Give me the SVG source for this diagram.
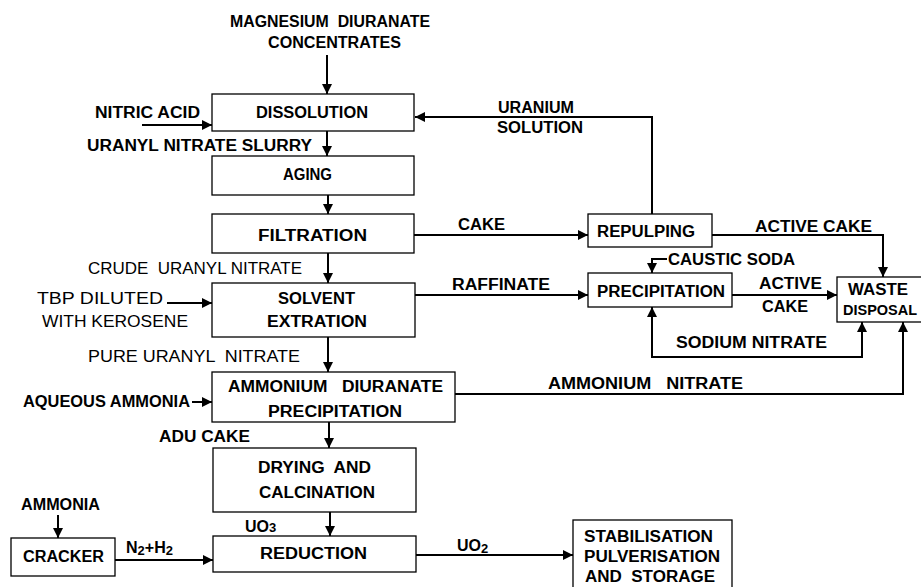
<svg xmlns="http://www.w3.org/2000/svg" width="921" height="587" viewBox="0 0 921 587">
<defs>
<marker id="ah" viewBox="0 0 10 10" refX="10" refY="5" markerWidth="11" markerHeight="10" markerUnits="userSpaceOnUse" orient="auto">
<path d="M0,0 L10,5 L0,10 z" fill="#000"/>
</marker>
</defs>
<style>
text{font-family:"Liberation Sans",Arial,sans-serif;font-weight:bold;font-size:16px;fill:#000}
.n{font-weight:normal}
.s{font-size:13px}
rect{fill:#fff;stroke:#000;stroke-width:1.3}
.ar{fill:none;stroke:#000;stroke-width:2;marker-end:url(#ah)}
</style>
<rect x="0" y="0" width="921" height="587" style="stroke:none"/>
<g id="connectors">
<path class="ar" d="M327,55 V94"/>
<path class="ar" d="M142,125 H212"/>
<path class="ar" d="M327,131 V156"/>
<path class="ar" d="M328,195 V214"/>
<path class="ar" d="M328,253 V283"/>
<path class="ar" d="M167,303 H212"/>
<path class="ar" d="M328,337 V372"/>
<path class="ar" d="M192,402 H212"/>
<path class="ar" d="M329,422 V448"/>
<path class="ar" d="M330,512 V536"/>
<path class="ar" d="M58,515 V538"/>
<path class="ar" d="M115,560 H213"/>
<path class="ar" d="M416,555 H573"/>
<path class="ar" d="M652,214 V117 H415"/>
<path class="ar" d="M414,235 H588"/>
<path class="ar" d="M712,235 H883 V277"/>
<path class="ar" d="M415,295 H588"/>
<path class="ar" d="M667,259 H652 V273"/>
<path class="ar" d="M732,295 H837"/>
<path class="ar" d="M862,357 H652 V307"/>
<path class="ar" d="M652,357 H862 V322"/>
<path class="ar" d="M455,394 H903 V322"/>
</g>
<g id="dissolution"><rect x="212" y="94" width="202" height="37"/><text x="256" y="118" textLength="112" lengthAdjust="spacingAndGlyphs">DISSOLUTION</text></g>
<g id="aging"><rect x="212" y="156" width="202" height="39"/><text x="283" y="180" textLength="49" lengthAdjust="spacingAndGlyphs">AGING</text></g>
<g id="filtration"><rect x="212" y="214" width="202" height="39"/><text x="258" y="241" textLength="109" lengthAdjust="spacingAndGlyphs">FILTRATION</text></g>
<g id="solvent"><rect x="212" y="283" width="203" height="54"/><text x="278" y="304" textLength="77" lengthAdjust="spacingAndGlyphs">SOLVENT</text><text x="267" y="327" textLength="100" lengthAdjust="spacingAndGlyphs">EXTRATION</text></g>
<g id="adu"><rect x="212" y="372" width="243" height="50"/><text x="228" y="392" textLength="215" lengthAdjust="spacingAndGlyphs" xml:space="preserve">AMMONIUM   DIURANATE</text><text x="268" y="417" textLength="134" lengthAdjust="spacingAndGlyphs">PRECIPITATION</text></g>
<g id="drying"><rect x="213" y="448" width="203" height="64"/><text x="258" y="473" textLength="113" lengthAdjust="spacingAndGlyphs" xml:space="preserve">DRYING  AND</text><text x="259" y="498" textLength="116" lengthAdjust="spacingAndGlyphs">CALCINATION</text></g>
<g id="reduction"><rect x="213" y="536" width="203" height="36"/><text x="260" y="559" textLength="107" lengthAdjust="spacingAndGlyphs">REDUCTION</text></g>
<g id="cracker"><rect x="11" y="538" width="104" height="38"/><text x="23" y="562" textLength="81" lengthAdjust="spacingAndGlyphs">CRACKER</text></g>
<g id="storage"><rect x="573" y="520" width="159" height="80"/><text x="584" y="542" textLength="129" lengthAdjust="spacingAndGlyphs">STABILISATION</text><text x="584" y="562" textLength="136" lengthAdjust="spacingAndGlyphs">PULVERISATION</text><text x="585" y="582" textLength="130" lengthAdjust="spacingAndGlyphs" xml:space="preserve">AND  STORAGE</text></g>
<g id="repulping"><rect x="588" y="214" width="124" height="33"/><text x="597" y="237" textLength="98" lengthAdjust="spacingAndGlyphs">REPULPING</text></g>
<g id="precipitation"><rect x="588" y="273" width="144" height="34"/><text x="597" y="297" textLength="128" lengthAdjust="spacingAndGlyphs">PRECIPITATION</text></g>
<g id="waste"><rect x="837" y="277" width="100" height="45"/><text x="848" y="295" textLength="60" lengthAdjust="spacingAndGlyphs">WASTE</text><text x="843" y="315" style="font-size:14.5px">DISPOSAL</text></g>
<g id="labels">
<text x="230" y="27" textLength="200" lengthAdjust="spacingAndGlyphs" xml:space="preserve">MAGNESIUM  DIURANATE</text>
<text x="268" y="48" textLength="133" lengthAdjust="spacingAndGlyphs">CONCENTRATES</text>
<text x="95" y="118" textLength="105" lengthAdjust="spacingAndGlyphs">NITRIC ACID</text>
<text x="87" y="151" textLength="225" lengthAdjust="spacingAndGlyphs">URANYL NITRATE SLURRY</text>
<text class="n" x="88" y="274" textLength="214" lengthAdjust="spacingAndGlyphs" xml:space="preserve">CRUDE  URANYL NITRATE</text>
<text class="n" x="37" y="304" textLength="126" lengthAdjust="spacingAndGlyphs">TBP DILUTED</text>
<text class="n" x="42" y="327" textLength="146" lengthAdjust="spacingAndGlyphs">WITH KEROSENE</text>
<text class="n" x="88" y="362" textLength="212" lengthAdjust="spacingAndGlyphs" xml:space="preserve">PURE URANYL  NITRATE</text>
<text x="23" y="407" textLength="167" lengthAdjust="spacingAndGlyphs">AQUEOUS AMMONIA</text>
<text x="159" y="442" textLength="91" lengthAdjust="spacingAndGlyphs">ADU CAKE</text>
<text x="21" y="510" textLength="79" lengthAdjust="spacingAndGlyphs">AMMONIA</text>
<text x="245" y="532">UO<tspan class="s">3</tspan></text>
<text x="126" y="553">N<tspan class="s" dy="2">2</tspan><tspan dy="-2">+H</tspan><tspan class="s" dy="2">2</tspan></text>
<text x="457" y="551">UO<tspan class="s" dy="2">2</tspan></text>
<text x="498" y="113" textLength="76" lengthAdjust="spacingAndGlyphs">URANIUM</text>
<text x="497" y="133" textLength="86" lengthAdjust="spacingAndGlyphs">SOLUTION</text>
<text x="458" y="230" textLength="47" lengthAdjust="spacingAndGlyphs">CAKE</text>
<text x="755" y="232" textLength="117" lengthAdjust="spacingAndGlyphs">ACTIVE CAKE</text>
<text x="452" y="290" textLength="98" lengthAdjust="spacingAndGlyphs">RAFFINATE</text>
<text x="668" y="265" textLength="127" lengthAdjust="spacingAndGlyphs">CAUSTIC SODA</text>
<text x="759" y="289" textLength="63" lengthAdjust="spacingAndGlyphs">ACTIVE</text>
<text x="762" y="312" textLength="46" lengthAdjust="spacingAndGlyphs">CAKE</text>
<text x="676" y="348" textLength="151" lengthAdjust="spacingAndGlyphs">SODIUM NITRATE</text>
<text x="548" y="389" textLength="195" lengthAdjust="spacingAndGlyphs" xml:space="preserve">AMMONIUM   NITRATE</text>
</g>
</svg>
